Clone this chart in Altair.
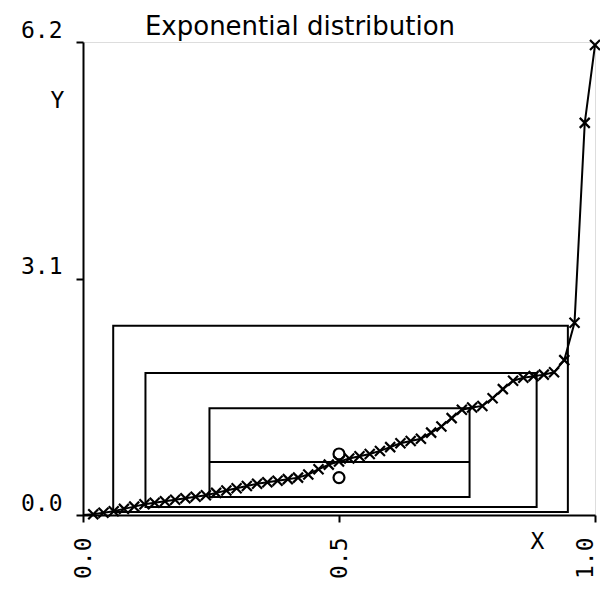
import altair as alt
import pandas as pd

# quantile plot data (plotting position, sample quantile)
px = [0.00, 0.02, 0.04, 0.06, 0.08, 0.10, 0.12, 0.14, 0.16, 0.18, 0.20,
      0.22, 0.24, 0.26, 0.28, 0.30, 0.32, 0.34, 0.36, 0.38, 0.40,
      0.42, 0.44, 0.46, 0.48, 0.50, 0.52, 0.54, 0.56, 0.58, 0.60,
      0.62, 0.64, 0.66, 0.68, 0.70, 0.72, 0.74, 0.76, 0.78, 0.80,
      0.82, 0.84, 0.86, 0.88, 0.90, 0.92, 0.94, 0.96, 0.98, 1.00]
qy = [0.00, 0.01, 0.03, 0.05, 0.08, 0.11, 0.14, 0.16, 0.18, 0.20, 0.22,
      0.24, 0.26, 0.29, 0.32, 0.35, 0.38, 0.41, 0.43, 0.45, 0.47,
      0.49, 0.53, 0.60, 0.66, 0.70, 0.74, 0.77, 0.80, 0.84, 0.89,
      0.94, 0.97, 1.00, 1.08, 1.16, 1.27, 1.38, 1.41, 1.43, 1.53,
      1.65, 1.76, 1.80, 1.82, 1.84, 1.87, 2.03, 2.52, 5.14, 6.16]

# nested quantile boxes
box_x1 = [0.059, 0.122, 0.247]
box_x2 = [0.947, 0.886, 0.755]
box_y1 = [0.04, 0.105, 0.236]
box_y2 = [2.48, 1.86, 1.40]
median_y = [0.695]
circle_x = [0.5, 0.5]
circle_y = [0.80, 0.49]
title_text = ["Exponential distribution"]

line_df = pd.DataFrame({"x": px, "y": qy})
pts_df = pd.DataFrame({"x": px[1:], "y": qy[1:]})
box_df = pd.DataFrame({"x1": box_x1, "x2": box_x2, "y1": box_y1, "y2": box_y2})
med_df = pd.DataFrame({"x1": [box_x1[2]], "x2": [box_x2[2]], "y": median_y})
circ_df = pd.DataFrame({"x": circle_x, "y": circle_y})
title_df = pd.DataFrame({"t": title_text})

mono = "DejaVu Sans Mono"

xscale = alt.Scale(domain=[0, 1], nice=False, zero=False)
yscale = alt.Scale(domain=[0, 6.2], nice=False, zero=False)

xaxis = alt.Axis(values=[0, 0.5, 1.0], format=".1f", labelAngle=-90, labelAlign="right",
                 labelBaseline="middle", labelFont=mono, labelFontSize=23, labelColor="black",
                 labelPadding=15, tickSize=7, tickColor="black", tickWidth=2,
                 labelOffset={"condition": {"test": "datum.value == 1", "value": -10}, "value": 0},
                 domainColor="black", domainWidth=2, grid=False,
                 title="X", titleFont=mono, titleFontSize=23, titleFontWeight="normal",
                 titleAngle=0, titleX=454, titleY=26, titleAlign="center", titleBaseline="middle",
                 labelFlush=False, labelOverlap=False)
yaxis = alt.Axis(values=[0, 3.1, 6.2], format=".1f", labelFont=mono, labelFontSize=23,
                 labelColor="black", labelBaseline="bottom", labelPadding=14,
                 tickSize=7, tickColor="black", tickWidth=2,
                 domainColor="black", domainWidth=2, grid=False,
                 title="Y", titleFont=mono, titleFontSize=23, titleFontWeight="normal",
                 titleAngle=0, titleX=-26, titleY=58, titleAlign="center", titleBaseline="middle",
                 labelFlush=False, labelOverlap=False)

boxes = alt.Chart(box_df).mark_rect(fill=None, stroke="black", strokeWidth=2).encode(
    x=alt.X("x1:Q", scale=xscale, axis=xaxis),
    x2="x2",
    y=alt.Y("y1:Q", scale=yscale, axis=yaxis),
    y2="y2",
)

median = alt.Chart(med_df).mark_rule(color="black", strokeWidth=2).encode(
    x=alt.X("x1:Q", scale=xscale), x2="x2", y=alt.Y("y:Q", scale=yscale)
)

line = alt.Chart(line_df).mark_line(color="black", strokeWidth=2).encode(
    x=alt.X("x:Q", scale=xscale), y=alt.Y("y:Q", scale=yscale)
)

xmark = "M-1,-1L1,1M-1,1L1,-1"
pts = alt.Chart(pts_df).mark_point(shape=xmark, size=100, stroke="black", strokeWidth=2.2,
                                   filled=False, opacity=1).encode(
    x=alt.X("x:Q", scale=xscale), y=alt.Y("y:Q", scale=yscale)
)

circ = alt.Chart(circ_df).mark_point(shape="circle", size=120, stroke="black", strokeWidth=2.2,
                                     filled=False, opacity=1).encode(
    x=alt.X("x:Q", scale=xscale), y=alt.Y("y:Q", scale=yscale)
)

title = alt.Chart(title_df).mark_text(font="DejaVu Sans", fontSize=26, color="black",
                                      align="center", baseline="alphabetic").encode(
    x=alt.value(217), y=alt.value(-7), text="t:N"
)

chart = alt.layer(boxes, median, line, pts, circ, title).properties(
    width=512, height=473,
    autosize=alt.AutoSizeParams(type="none"),
    padding={"left": 83, "top": 42, "right": 5, "bottom": 76},
).configure_view(stroke=None).configure(background="white")

chart.save("out.html", embed_options={"renderer": "svg", "actions": False})
